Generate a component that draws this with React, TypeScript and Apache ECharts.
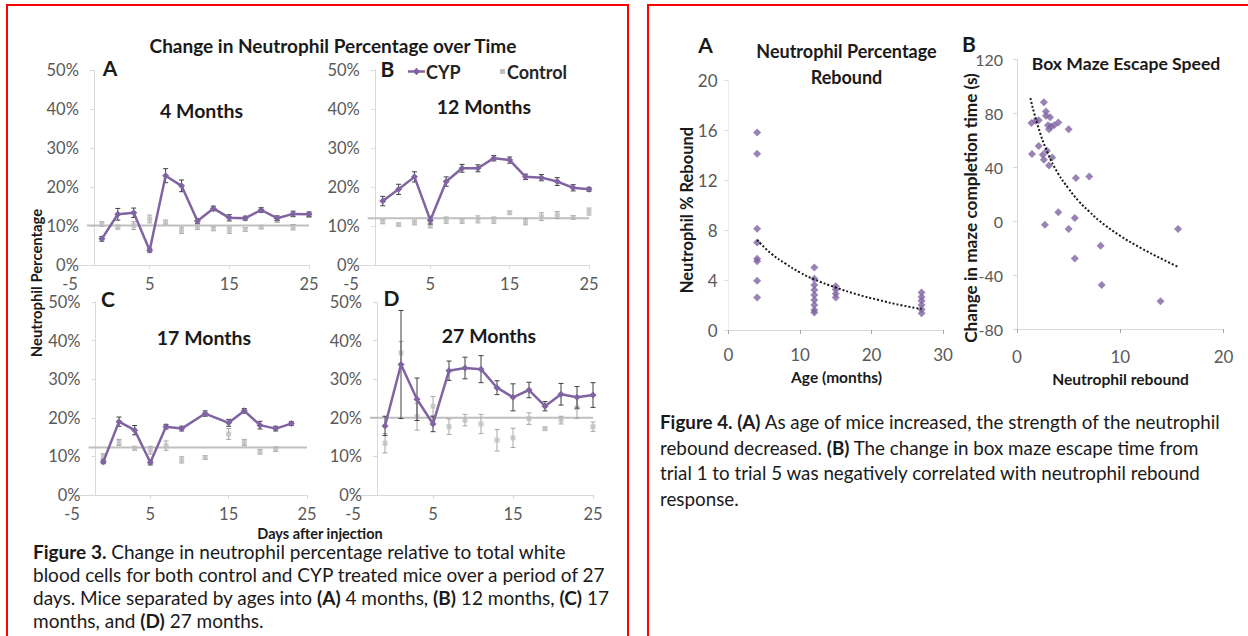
import React, { useEffect, useRef } from "react";
import * as echarts from "echarts";

// ---------- Figure 3 data ----------
const daysA = [-1, 1, 3, 5, 7, 9, 11, 13, 15, 17, 19, 21, 23, 25];
const cypA = [6.7, 13.0, 13.4, 3.8, 22.9, 20.3, 11.3, 14.5, 12.1, 12.0, 14.1, 12.0, 13.1, 13.0];
const cypErrA = [0.6, 1.5, 1.2, 0.5, 1.8, 1.5, 0.6, 0.6, 0.8, 0.5, 0.6, 0.6, 0.7, 0.6];
const ctlA = [10.5, 9.7, 10.1, 11.8, 11.0, 8.9, 9.7, 9.3, 8.9, 9.1, 9.7, 11.5, 9.7, 12.8];
const ctlErrA = [0.6, 0.5, 1.0, 1.0, 0.5, 0.8, 0.6, 0.5, 0.8, 0.5, 0.4, 0.6, 0.7, 0.6];
const meanA = 10.1;

const daysB = [-1, 1, 3, 5, 7, 9, 11, 13, 15, 17, 19, 21, 23, 25];
const cypB = [16.4, 19.4, 22.6, 11.5, 21.4, 24.8, 24.8, 27.4, 26.9, 22.6, 22.4, 21.4, 19.8, 19.4];
const cypErrB = [1.2, 1.3, 1.3, 1.0, 1.2, 1.0, 0.9, 0.7, 0.8, 0.7, 0.8, 1.0, 0.8, 0.5];
const ctlB = [11.1, 10.4, 10.9, 10.3, 11.5, 11.3, 11.7, 11.5, 13.4, 11.1, 12.4, 12.8, 12.2, 13.7];
const ctlErrB = [0.5, 0.4, 0.6, 0.8, 0.8, 0.6, 0.9, 0.8, 0.4, 0.8, 1.0, 0.9, 0.5, 0.9];
const meanB = 12.0;

const daysC = [-1, 1, 3, 5, 7, 9, 12, 15, 17, 19, 21, 23];
const cypC = [8.6, 19.0, 16.8, 8.4, 17.7, 17.2, 21.1, 18.7, 21.8, 18.1, 17.2, 18.5];
const cypErrC = [0.5, 1.2, 1.2, 0.6, 0.6, 0.6, 0.7, 0.9, 0.6, 1.0, 0.6, 0.5];
const ctlC = [10.1, 13.6, 12.1, 11.6, 12.8, 9.1, 9.7, 15.8, 13.6, 11.2, 11.9, null];
const ctlErrC = [0.6, 0.8, 0.5, 1.0, 1.2, 0.8, 0.5, 1.4, 0.8, 0.6, 0.6, null];
const meanC = 12.3;

const daysD = [-1, 1, 3, 5, 7, 9, 11, 13, 15, 17, 19, 21, 23, 25];
const cypD = [17.9, 33.8, 24.8, 18.4, 32.2, 32.9, 32.6, 27.8, 25.3, 27.2, 23.0, 26.1, 25.3, 25.9];
const cypErrD = [2.5, 14, 5.5, 2.0, 2.5, 2.8, 3.5, 1.8, 3.5, 2.0, 1.2, 2.8, 2.8, 3.2];
const ctlD = [13.4, 36.8, 20.3, 23.0, 17.7, 19.4, 18.4, 14.2, 14.8, 19.8, 17.2, 19.4, 22.6, 17.7];
const ctlErrD = [2.5, 3.0, 3.5, 2.5, 2.0, 1.5, 2.5, 2.8, 2.5, 1.5, 0.4, 1.0, 2.8, 1.2];
const meanD = 20.0;

const panelTitles = ["4 Months", "12 Months", "17 Months", "27 Months"];
const panelLetters = ["A", "B", "C", "D"];
const meanLineStart = -2.9;
const meanLineEnd = 25;
const yAxisCrossDay = -2;

// ---------- Figure 4 data ----------
const ageMonths = [4, 4, 4, 4, 4, 4, 4, 4, 12, 12, 12, 12, 12, 12, 12, 12, 12, 15, 15, 15, 15, 27, 27, 27, 27, 27, 27];
const reboundPct = [15.8, 14.1, 8.1, 7.0, 5.7, 5.5, 3.95, 2.6, 5.0, 4.1, 3.6, 3.2, 2.8, 2.4, 2.0, 1.6, 1.4, 3.5, 3.25, 2.9, 2.6, 3.0, 2.65, 2.35, 2.0, 1.65, 1.35];
const trendAgeX = [4, 6, 8, 10, 12, 15, 18, 21, 24, 27];
const trendAgeY = [7.2, 6.1, 5.3, 4.6, 4.05, 3.4, 2.85, 2.4, 2.0, 1.68];

const reboundX = [1.4, 1.45, 1.8, 2.1, 2.1, 2.5, 2.6, 2.6, 2.8, 2.8, 2.7, 2.9, 3.0, 3.1, 3.1, 3.2, 3.3, 3.4, 3.6, 4.0, 4.0, 5.0, 5.0, 5.6, 5.7, 5.6, 7.0, 8.1, 8.2, 13.9, 15.6];
const mazeChange = [72.6, 49.6, 74.3, 74.6, 55.6, 49, 45.4, 87.9, 81.2, 78, -2.7, 52, 70.9, 41.2, 68, 76.8, 70, 47, 70.9, 73, 6.4, 68, -5.9, 2.2, 31.9, -27.7, 33, -18.3, -47.4, -59.5, -5.9];
const trendMazeX = [1.3, 2, 3, 4, 5, 6, 7, 8, 10, 12, 14, 15.6];
const trendMazeY = [91, 71, 50, 35, 24, 14.5, 7, 0, -11, -20, -28, -34];

const PURPLE = "#8064A2";
const CTL = "#BFBFBF";
const AXIS = "#D9D9D9";
const LABEL = "#595959";
const FONT = "Lato, 'Open Sans', sans-serif";

const panels = [
  { days: daysA, cyp: cypA, cypErr: cypErrA, ctl: ctlA, ctlErr: ctlErrA, mean: meanA, grid: { left: 70, top: 70, width: 239, height: 195 } },
  { days: daysB, cyp: cypB, cypErr: cypErrB, ctl: ctlB, ctlErr: ctlErrB, mean: meanB, grid: { left: 351, top: 70, width: 238, height: 195 } },
  { days: daysC, cyp: cypC, cypErr: cypErrC, ctl: ctlC, ctlErr: ctlErrC, mean: meanC, grid: { left: 72, top: 302, width: 235, height: 193 } },
  { days: daysD, cyp: cypD, cypErr: cypErrD, ctl: ctlD, ctlErr: ctlErrD, mean: meanD, grid: { left: 353, top: 302, width: 240, height: 193 } },
];

function errRenderer(color: string) {
  return (params: any, api: any) => {
    const x = api.value(0);
    const lo = api.value(1);
    const hi = api.value(2);
    const p1 = api.coord([x, hi]);
    const p2 = api.coord([x, lo]);
    const st = { stroke: color, lineWidth: 1 };
    return {
      type: "group",
      children: [
        { type: "line", shape: { x1: p1[0], y1: p1[1], x2: p2[0], y2: p2[1] }, style: st },
        { type: "line", shape: { x1: p1[0] - 2.5, y1: p1[1], x2: p1[0] + 2.5, y2: p1[1] }, style: st },
        { type: "line", shape: { x1: p2[0] - 2.5, y1: p2[1], x2: p2[0] + 2.5, y2: p2[1] }, style: st },
      ],
    };
  };
}

function buildOption() {
  const grids: any[] = [];
  const xAxes: any[] = [];
  const yAxes: any[] = [];
  const series: any[] = [];
  const graphics: any[] = [];

  panels.forEach((p, i) => {
    grids.push({ ...p.grid, containLabel: false });
    const unitPx = p.grid.width / 30;
    xAxes.push({
      type: "value", gridIndex: i, min: -5, max: 25, interval: 10,
      axisLine: { onZero: false, lineStyle: { color: AXIS, width: 1 } },
      axisTick: { show: true, length: 4, lineStyle: { color: AXIS } },
      axisLabel: { color: LABEL, fontSize: 16.5, fontFamily: FONT, margin: 10 },
      splitLine: { show: false },
    });
    yAxes.push({
      type: "value", gridIndex: i, min: 0, max: 50, interval: 10,
      offset: -(yAxisCrossDay + 5) * unitPx,
      axisLine: { show: true, onZero: false, lineStyle: { color: AXIS, width: 1 } },
      axisTick: { show: true, length: 4, lineStyle: { color: AXIS } },
      axisLabel: { color: LABEL, fontSize: 16.5, fontFamily: FONT, margin: 15, formatter: "{value}%" },
      splitLine: { show: false },
    });
    series.push({
      type: "line", name: "Control mean", xAxisIndex: i, yAxisIndex: i,
      data: [[meanLineStart, p.mean], [meanLineEnd, p.mean]],
      symbol: "none", lineStyle: { color: CTL, width: 2 }, z: 1, silent: true,
    });
    series.push({
      type: "custom", name: "Control error", xAxisIndex: i, yAxisIndex: i, z: 2,
      renderItem: errRenderer("#A6A6A6"),
      data: p.days.map((d, k) => (p.ctl[k] == null ? null : [d, (p.ctl[k] as number) - (p.ctlErr[k] as number), (p.ctl[k] as number) + (p.ctlErr[k] as number)])).filter((v) => v),
    });
    series.push({
      type: "scatter", name: "Control", xAxisIndex: i, yAxisIndex: i, z: 3,
      symbol: "rect", symbolSize: 5, itemStyle: { color: CTL },
      data: p.days.map((d, k) => (p.ctl[k] == null ? null : [d, p.ctl[k]])).filter((v) => v),
    });
    series.push({
      type: "custom", name: "CYP error", xAxisIndex: i, yAxisIndex: i, z: 4,
      renderItem: errRenderer("#404040"),
      data: p.days.map((d, k) => [d, p.cyp[k] - p.cypErr[k], p.cyp[k] + p.cypErr[k]]),
    });
    series.push({
      type: "line", name: "CYP", xAxisIndex: i, yAxisIndex: i, z: 5,
      symbol: "diamond", symbolSize: 7, showSymbol: true,
      lineStyle: { color: PURPLE, width: 2.5 }, itemStyle: { color: PURPLE },
      data: p.days.map((d, k) => [d, p.cyp[k]]),
    });
  });

  // Figure 4A
  grids.push({ left: 728.5, top: 80, width: 214.5, height: 250 });
  xAxes.push({
    type: "value", gridIndex: 4, min: 0, max: 30, interval: 10,
    axisLine: { onZero: false, lineStyle: { color: AXIS } },
    axisTick: { show: true, length: 4, lineStyle: { color: "#A6A6A6" } },
    axisLabel: { color: LABEL, fontSize: 17, fontFamily: FONT, margin: 16 },
    splitLine: { show: false },
  });
  yAxes.push({
    type: "value", gridIndex: 4, min: 0, max: 20, interval: 4,
    axisLine: { show: true, onZero: false, lineStyle: { color: "#EDEDED" } },
    axisTick: { show: true, length: 4, lineStyle: { color: AXIS } },
    axisLabel: { color: LABEL, fontSize: 17, fontFamily: FONT, margin: 11 },
    splitLine: { show: false },
  });
  series.push({
    type: "scatter", name: "Rebound", xAxisIndex: 4, yAxisIndex: 4, z: 3,
    symbol: "diamond", symbolSize: 8, itemStyle: { color: PURPLE },
    data: ageMonths.map((a, k) => [a, reboundPct[k]]),
  });
  series.push({
    type: "line", name: "Rebound trend", xAxisIndex: 4, yAxisIndex: 4, z: 4,
    symbol: "none", smooth: true, lineStyle: { color: "#1A1A1A", width: 2, type: "dotted" },
    data: trendAgeX.map((a, k) => [a, trendAgeY[k]]),
  });

  // Figure 4B
  grids.push({ left: 1017, top: 59, width: 206.5, height: 270 });
  xAxes.push({
    type: "value", gridIndex: 5, min: 0, max: 20, interval: 10,
    axisLine: { onZero: false, lineStyle: { color: AXIS } },
    axisTick: { show: true, length: 4, lineStyle: { color: "#A6A6A6" } },
    axisLabel: { color: LABEL, fontSize: 17, fontFamily: FONT, margin: 19 },
    splitLine: { show: false },
  });
  yAxes.push({
    type: "value", gridIndex: 5, min: -80, max: 120, interval: 40,
    axisLine: { show: true, onZero: false, lineStyle: { color: AXIS } },
    axisTick: { show: true, length: 4, lineStyle: { color: AXIS } },
    axisLabel: { color: LABEL, fontSize: 16, fontFamily: FONT, margin: 14 },
    splitLine: { show: false },
  });
  series.push({
    type: "scatter", name: "Maze", xAxisIndex: 5, yAxisIndex: 5, z: 3,
    symbol: "diamond", symbolSize: 8, itemStyle: { color: PURPLE },
    data: reboundX.map((x, k) => [x, mazeChange[k]]),
  });
  series.push({
    type: "line", name: "Maze trend", xAxisIndex: 5, yAxisIndex: 5, z: 4,
    symbol: "none", smooth: true, lineStyle: { color: "#1A1A1A", width: 2, type: "dotted" },
    data: trendMazeX.map((x, k) => [x, trendMazeY[k]]),
  });

  const txt = (text: string, x: number, y: number, size: number, opts: any = {}) => ({
    type: "text", x, y, rotation: opts.rotation || 0,
    style: {
      text, fill: opts.color || "#1A1A1A", fontSize: size, fontWeight: opts.weight || "bold",
      fontFamily: FONT, textAlign: opts.align || "center", textVerticalAlign: "middle",
    },
  });

  // red frames
  graphics.push({ type: "rect", shape: { x: 7, y: 5, width: 621, height: 700 }, style: { fill: "none", stroke: "#FF0000", lineWidth: 2 } });
  graphics.push({ type: "rect", shape: { x: 648, y: 5, width: 700, height: 700 }, style: { fill: "none", stroke: "#FF0000", lineWidth: 2 } });

  graphics.push(txt("Change in Neutrophil Percentage over Time", 333, 45, 19));
  const letterPos = [[110, 67], [387.5, 68.5], [108, 298.5], [391.5, 297]];
  const subPos = [[201.5, 110], [484, 106.5], [204, 337], [489, 335]];
  panelLetters.forEach((l, i) => graphics.push(txt(l, letterPos[i][0], letterPos[i][1], 21)));
  panelTitles.forEach((t, i) => graphics.push(txt(t, subPos[i][0], subPos[i][1], 19.5)));
  graphics.push(txt("Neutrophil Percentage", 36, 283, 14.8, { rotation: Math.PI / 2 }));
  graphics.push(txt("Days after injection", 320, 533, 14.5));

  // legend
  graphics.push({ type: "line", shape: { x1: 408, y1: 71.5, x2: 425, y2: 71.5 }, style: { stroke: PURPLE, lineWidth: 2.5 } });
  graphics.push({ type: "polygon", shape: { points: [[416.5, 67.8], [420, 71.5], [416.5, 75.2], [413, 71.5]] }, style: { fill: PURPLE } });
  graphics.push(txt("CYP", 426, 71.5, 18, { align: "left", color: "#262626" }));
  graphics.push({ type: "rect", shape: { x: 500, y: 69, width: 5, height: 5 }, style: { fill: CTL } });
  graphics.push(txt("Control", 507, 71.5, 18, { align: "left", color: "#262626" }));

  // Figure 4 texts
  graphics.push(txt("A", 705.5, 44, 21));
  graphics.push(txt("B", 969, 43.5, 21));
  graphics.push(txt("Neutrophil Percentage", 846.5, 50.5, 18));
  graphics.push(txt("Rebound", 846.5, 76.5, 18));
  graphics.push(txt("Box Maze Escape Speed", 1126, 63, 17.6));
  graphics.push(txt("Neutrophil % Rebound", 687, 210, 16.5, { rotation: Math.PI / 2 }));
  graphics.push(txt("Age (months)", 836.5, 377, 15.5));
  graphics.push(txt("Change in maze completion time (s)", 970, 208, 17.2, { rotation: Math.PI / 2 }));
  graphics.push(txt("Neutrophil rebound", 1120.5, 378.5, 15.6));

  return {
    animation: false,
    backgroundColor: "#FFFFFF",
    grid: grids,
    xAxis: xAxes,
    yAxis: yAxes,
    series,
    graphic: { elements: graphics },
  };
}

const captionStyle: React.CSSProperties = {
  position: "absolute",
  fontFamily: FONT,
  fontSize: 19,
  color: "#1A1A1A",
  whiteSpace: "nowrap",
};

export default function App() {
  const ref = useRef<HTMLDivElement>(null);
  useEffect(() => {
    if (!ref.current) return;
    const chart = echarts.init(ref.current, undefined, { renderer: "svg" });
    chart.setOption(buildOption() as any);
    return () => chart.dispose();
  }, []);
  return (
    <div style={{ position: "absolute", left: 0, top: 0, width: 1248, height: 636, background: "#fff", overflow: "hidden" }}>
      <div ref={ref} style={{ position: "absolute", left: 0, top: 0, width: 1248, height: 636 }} />
      <div style={{ ...captionStyle, left: 33, top: 539.5, width: 585, lineHeight: "23px" }}>
        <div><b>Figure 3.</b> Change in neutrophil percentage relative to total white</div>
        <div>blood cells for both control and CYP treated mice over a period of 27</div>
        <div>days. Mice separated by ages into <b>(A)</b> 4 months, <b>(B)</b> 12 months, <b>(C)</b> 17</div>
        <div>months, and <b>(D)</b> 27 months.</div>
      </div>
      <div style={{ ...captionStyle, left: 660, top: 409, width: 585, lineHeight: "25.7px", fontSize: 18.8 }}>
        <div><b>Figure 4. (A)</b> As age of mice increased, the strength of the neutrophil</div>
        <div>rebound decreased. <b>(B)</b> The change in box maze escape time from</div>
        <div>trial 1 to trial 5 was negatively correlated with neutrophil rebound</div>
        <div>response.</div>
      </div>
    </div>
  );
}
